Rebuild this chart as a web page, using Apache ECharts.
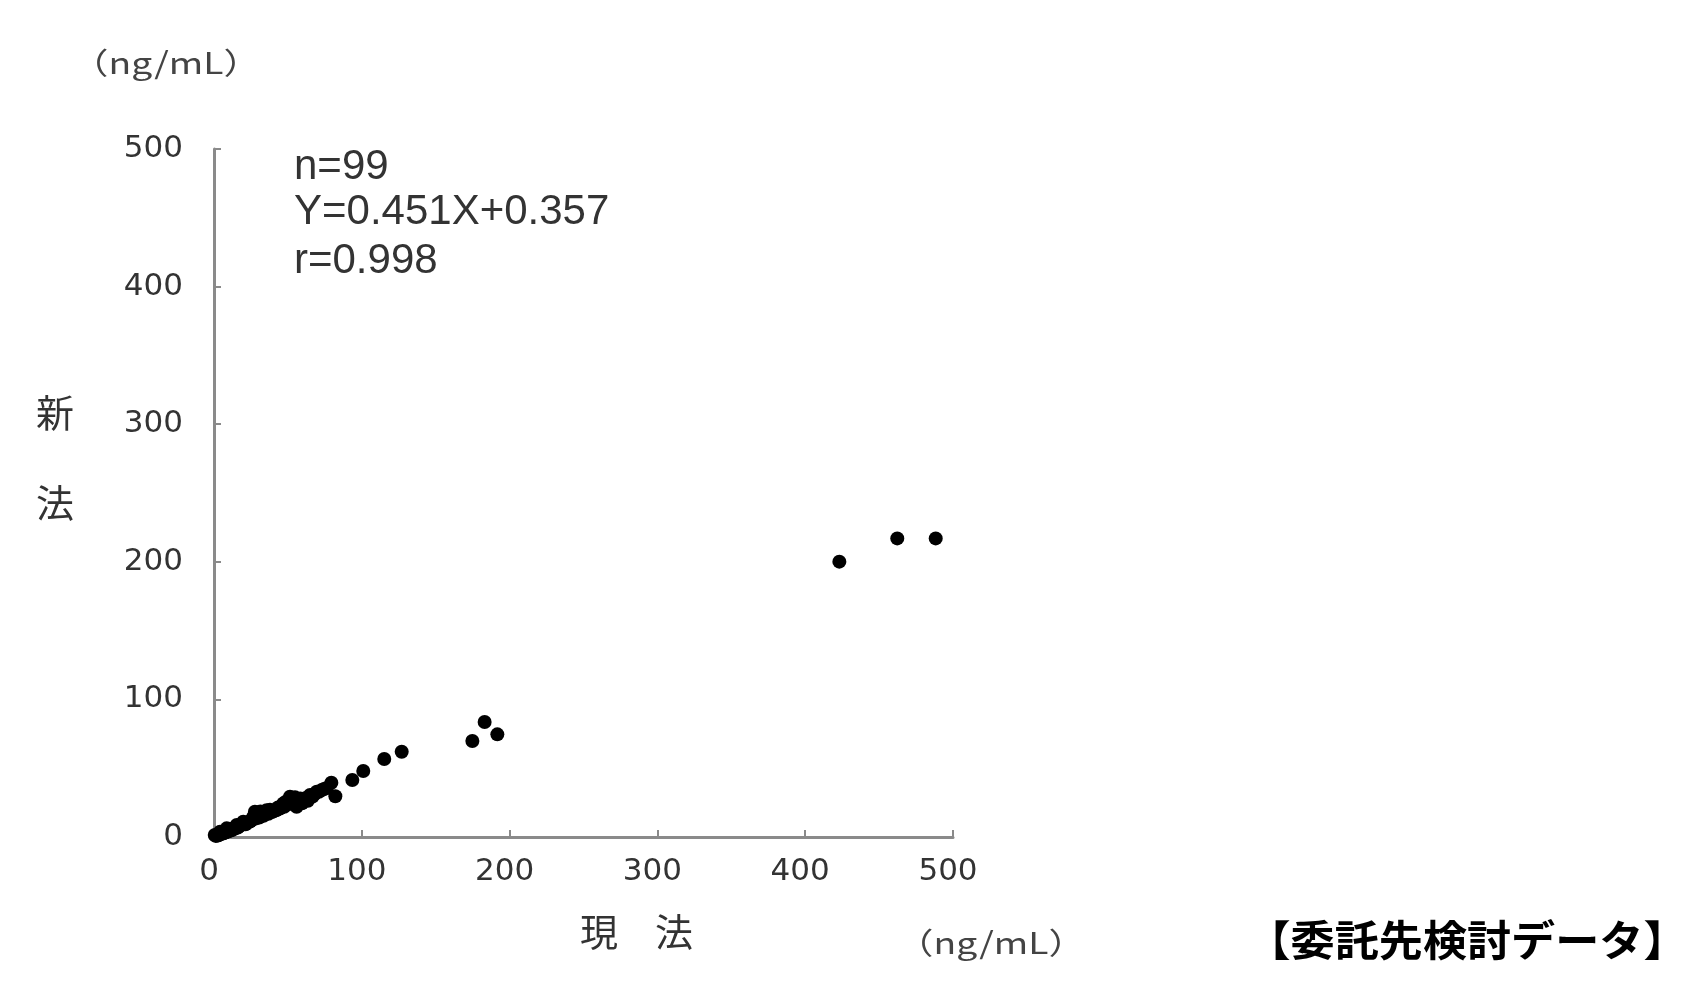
<!DOCTYPE html>
<html><head><meta charset="utf-8">
<script src="https://cdn.jsdelivr.net/npm/echarts@6/dist/echarts.min.js"></script>
<style>html,body{margin:0;padding:0;background:#fff}#c{width:1704px;height:1004px}</style>
</head><body><div id="c"></div>
<script>
// Tick values
const xTicks = [0, 100, 200, 300, 400, 500];
const yTicks = [0, 100, 200, 300, 400, 500];
// 現法 (x) values
const currentMethod = [
  423.1, 462.3, 488.3, 174.8, 183.1, 191.7, 127.0, 115.2, 101.0, 93.6,
  79.4, 82.1, 72.9, 69.5, 65.0, 60.4, 55.9, 51.4, 46.9, 44.6,
  35.6, 32.3, 27.7, 26.6, 19.8, 15.4, 8.6, 4.1, 0.5,
  1.2, 1.8, 2.3, 2.9, 3.4, 3.8, 4.5, 5.1, 5.6, 6.2,
  6.8, 7.3, 7.9, 8.4, 9.0, 9.7, 10.3, 10.9, 11.6, 12.2,
  12.9, 13.5, 14.2, 14.8, 15.9, 16.7, 17.4, 18.3, 19.1, 20.5,
  21.4, 22.3, 23.2, 24.4, 25.1, 28.5, 29.8, 30.6, 31.4, 33.5,
  34.7, 36.8, 37.9, 39.2, 40.5, 42.1, 43.3, 45.8, 47.5, 48.6,
  50.2, 52.4, 53.6, 54.8, 57.1, 58.3, 59.6, 62.2, 63.5, 66.7,
  68.1, 71.0, 74.5, 76.3,
  2.0, 3.0, 5.9, 8.1, 11.2, 16.1
];
// 新法 (y) values
const newMethod = [
  200.1, 217.0, 217.0, 69.8, 83.6, 74.6, 62.0, 56.7, 48.0, 41.4,
  39.4, 29.6, 34.2, 32.9, 30.5, 26.9, 22.0, 29.3, 24.4, 20.7,
  19.5, 16.0, 18.4, 14.8, 11.1, 8.7, 6.3, 3.9, 1.5,
  0.8, 1.2, 1.0, 1.6, 1.9, 2.4, 2.1, 2.6, 3.0, 3.3,
  2.9, 3.6, 4.1, 3.8, 4.5, 4.9, 4.4, 5.2, 5.6, 5.1,
  6.0, 6.4, 6.1, 7.0, 7.4, 7.9, 8.2, 8.6, 9.0, 9.6,
  9.2, 10.3, 10.8, 11.3, 12.0, 13.5, 17.2, 14.2, 18.6, 15.4,
  17.8, 16.9, 19.8, 18.1, 18.9, 19.4, 21.5, 22.6, 21.9, 25.7,
  23.8, 27.6, 24.9, 28.8, 25.2, 27.9, 24.5, 28.4, 26.3, 29.4,
  31.2, 32.8, 34.9, 35.6,
  1.4, 1.3, 2.5, 3.4, 4.8, 6.9
];
const statLines = ['n=99', 'Y=0.451X+0.357', 'r=0.998'];
const unitLabel = '（ng/mL）';
const yName = ['新', '法'];
const xName = ['現', '法'];
const sourceNote = '【委託先検討データ】';

const points = currentMethod.map((x, i) => [x, newMethod[i]]);
const axisColor = '#8a8a8a';
const textColor = '#333333';
const tickFont = { fontFamily: 'DejaVu Sans', fontSize: 31, color: textColor };

const chart = echarts.init(document.getElementById('c'), null, { renderer: 'canvas' });
const graphics = [];
const statY = [170, 215, 264];
statLines.forEach((t, i) => graphics.push({
  type: 'text', left: 294, top: statY[i] - 24,
  style: { text: t, font: '42px "Liberation Sans"', fill: textColor }
}));
function unitText(cx, cy) {
  return { type: 'text', x: cx, y: cy, scaleX: 1.24,
    style: { text: unitLabel, font: '30px "Noto Sans CJK JP"', fill: '#444', align: 'center', verticalAlign: 'middle' } };
}
graphics.push(unitText(166, 63));
graphics.push(unitText(991, 943));
const cjk = (t, x, y) => ({ type: 'text', x: x, y: y,
  style: { text: t, font: '38px "Noto Sans CJK JP"', fill: textColor, align: 'center', verticalAlign: 'middle' } });
graphics.push(cjk(yName[0], 55, 413));
graphics.push(cjk(yName[1], 55, 503));
graphics.push(cjk(xName[0], 599, 932));
graphics.push(cjk(xName[1], 674, 932));
graphics.push({ type: 'text', x: 1467, y: 940, scaleX: 1.05,
  style: { text: sourceNote, font: 'bold 42px "Noto Sans CJK JP"', fill: '#000', align: 'center', verticalAlign: 'middle' } });

chart.setOption({
  animation: false,
  backgroundColor: '#fff',
  grid: { left: 214, top: 149, width: 739, height: 688 },
  xAxis: {
    type: 'value', min: xTicks[0], max: xTicks[xTicks.length - 1], interval: xTicks[1] - xTicks[0],
    axisLine: { show: true, lineStyle: { color: axisColor, width: 3 } },
    axisTick: { show: true, inside: true, length: 7, lineStyle: { color: axisColor, width: 2 } },
    splitLine: { show: false },
    axisLabel: Object.assign({ margin: 19, padding: [0, 10, 0, 0] }, tickFont)
  },
  yAxis: {
    type: 'value', min: yTicks[0], max: yTicks[yTicks.length - 1], interval: yTicks[1] - yTicks[0],
    axisLine: { show: true, lineStyle: { color: axisColor, width: 3 } },
    axisTick: { show: true, inside: true, length: 7, lineStyle: { color: axisColor, width: 2 } },
    splitLine: { show: false },
    axisLabel: Object.assign({ margin: 31 }, tickFont)
  },
  graphic: graphics,
  series: [{
    type: 'scatter', data: points, symbol: 'circle', symbolSize: 14,
    itemStyle: { color: '#000', opacity: 1 }, z: 5
  }]
});
</script></body></html>
